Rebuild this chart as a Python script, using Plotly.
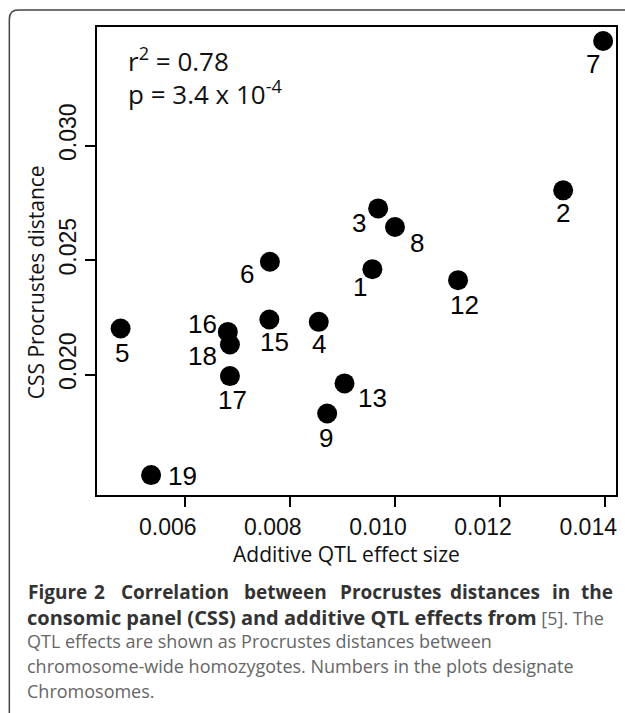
import plotly.graph_objects as go

# ---- data ----
chromosomes = ["1", "2", "3", "4", "5", "6", "7", "8", "9", "12", "13", "15", "16", "17", "18", "19"]
qtl_effect = [0.00957, 0.01320, 0.00968, 0.00855, 0.00478, 0.00762, 0.01396, 0.01000,
              0.00871, 0.01120, 0.00904, 0.00761, 0.00682, 0.00686, 0.00686, 0.00536]
css_distance = [0.02461, 0.02805, 0.02726, 0.02231, 0.02202, 0.02493, 0.03457, 0.02645,
                0.01831, 0.02413, 0.01962, 0.02241, 0.02187, 0.01994, 0.02132, 0.01562]
x_ticks = [0.006, 0.008, 0.010, 0.012, 0.014]
y_ticks = [0.020, 0.025, 0.030]

# label offsets in pixels (style), keyed by chromosome
label_offsets = {
    "1": (-12, 18), "2": (0, 23), "3": (-19, 15), "4": (0, 22), "5": (1, 25),
    "6": (-23, 12), "7": (-10, 23), "8": (22, 16), "9": (-1, 25), "12": (6, 25),
    "13": (28, 15), "15": (5, 22), "16": (-25, -8), "17": (3, 24), "18": (-27, 11),
    "19": (31, 1),
}

W, H = 625, 713
L, R, T, B = 97, 618, 27, 495


def px(x):
    return (x - L) / (R - L)


def py(y):
    return (B - y) / (B - T)


fig = go.Figure()
fig.add_trace(go.Scatter(
    x=qtl_effect, y=css_distance, mode="markers",
    marker=dict(size=20, color="black", line=dict(width=0)),
    hoverinfo="skip", showlegend=False,
))

annotations = []
for c, xv, yv in zip(chromosomes, qtl_effect, css_distance):
    dx, dy = label_offsets[c]
    annotations.append(dict(
        x=xv, y=yv, xref="x", yref="y", text=c, showarrow=False,
        xshift=dx, yshift=-dy, xanchor="center", yanchor="middle",
        font=dict(family="Liberation Sans, Arial", size=26, color="black"),
    ))

title_font = dict(family="Open Sans", size=21, color="#111")
annotations += [
    dict(x=px(126), y=py(60), xref="paper", yref="paper", showarrow=False,
         xanchor="left", yanchor="middle", text="r<sup>2</sup> = 0.78",
         font=dict(family="Open Sans", size=26, color="#111")),
    dict(x=px(126), y=py(93), xref="paper", yref="paper", showarrow=False,
         xanchor="left", yanchor="middle", text="p = 3.4 x 10<sup>-4</sup>",
         font=dict(family="Open Sans", size=26, color="#111")),
    dict(x=px(347), y=py(554), xref="paper", yref="paper", showarrow=False,
         xanchor="center", yanchor="middle", text="Additive QTL effect size",
         font=title_font),
    dict(x=px(36), y=py(282), xref="paper", yref="paper", showarrow=False,
         xanchor="center", yanchor="middle", text="CSS Procrustes distance",
         textangle=-90, font=title_font),
]

# caption: first line justified word by word
bold_font = dict(family="Open Sans", size=19, color="#333")
cap_font = dict(family="Open Sans", size=18, color="#666")
line1_words = ["Figure", "2", "Correlation", "between", "Procrustes", "distances", "in", "the"]
line1_pos = [26, 100, 175, 286, 392, 497, 563, 617]
line1_anchor = ["left", "center", "center", "center", "center", "center", "center", "right"]
for wd, cx, anc in zip(line1_words, line1_pos, line1_anchor):
    annotations.append(dict(
        x=px(cx), y=py(592), xref="paper", yref="paper", showarrow=False,
        xanchor=anc, yanchor="middle", text=f"<b>{wd}</b>", font=bold_font,
    ))
caption_lines = [
    "<b><span style='color:#333;font-size:20px'>consomic panel (CSS) and additive QTL effects from</span></b> [5]. The",
    "QTL effects are shown as Procrustes distances between",
    "chromosome-wide homozygotes. Numbers in the plots designate",
    "Chromosomes.",
]
caption_y = [617, 641, 666, 691]
for line, yy in zip(caption_lines, caption_y):
    annotations.append(dict(
        x=px(25), y=py(yy), xref="paper", yref="paper", showarrow=False,
        xanchor="left", yanchor="middle", text=line, font=cap_font,
    ))

frame_path = (f"M {px(9)},{py(720)} L {px(9)},{py(19)} "
              f"Q {px(9)},{py(10)} {px(18)},{py(10)} L {px(630)},{py(10)}")

fig.update_layout(
    width=W, height=H,
    margin=dict(l=L, r=W - R, t=T, b=H - B),
    paper_bgcolor="white", plot_bgcolor="white",
    annotations=annotations,
    shapes=[dict(type="path", path=frame_path, xref="paper", yref="paper",
                 line=dict(color="#444", width=1.5))],
    xaxis=dict(range=[0.004331, 0.014205], tickvals=x_ticks, tickformat=".3f",
               showgrid=False, zeroline=False, showline=True, mirror=True,
               linecolor="black", linewidth=2, ticks="outside", ticklen=10,
               tickwidth=1.5, tickcolor="black", ticklabelshift=-17,
               tickfont=dict(family="Liberation Sans, Arial", size=23, color="#111")),
    yaxis=dict(range=[0.01475, 0.03518], tickvals=y_ticks, tickformat=".3f",
               showgrid=False, zeroline=False, showline=True, mirror=True,
               linecolor="black", linewidth=2, ticks="outside", ticklen=10,
               tickwidth=1.5, tickcolor="black", tickangle=-90, ticklabelshift=-10,
               tickfont=dict(family="Liberation Sans, Arial", size=23, color="#111")),
)

fig.write_html(
    "out.html",
    config={"displayModeBar": False},
    post_script="document.body.style.margin='0';document.body.style.overflow='hidden';",
)
